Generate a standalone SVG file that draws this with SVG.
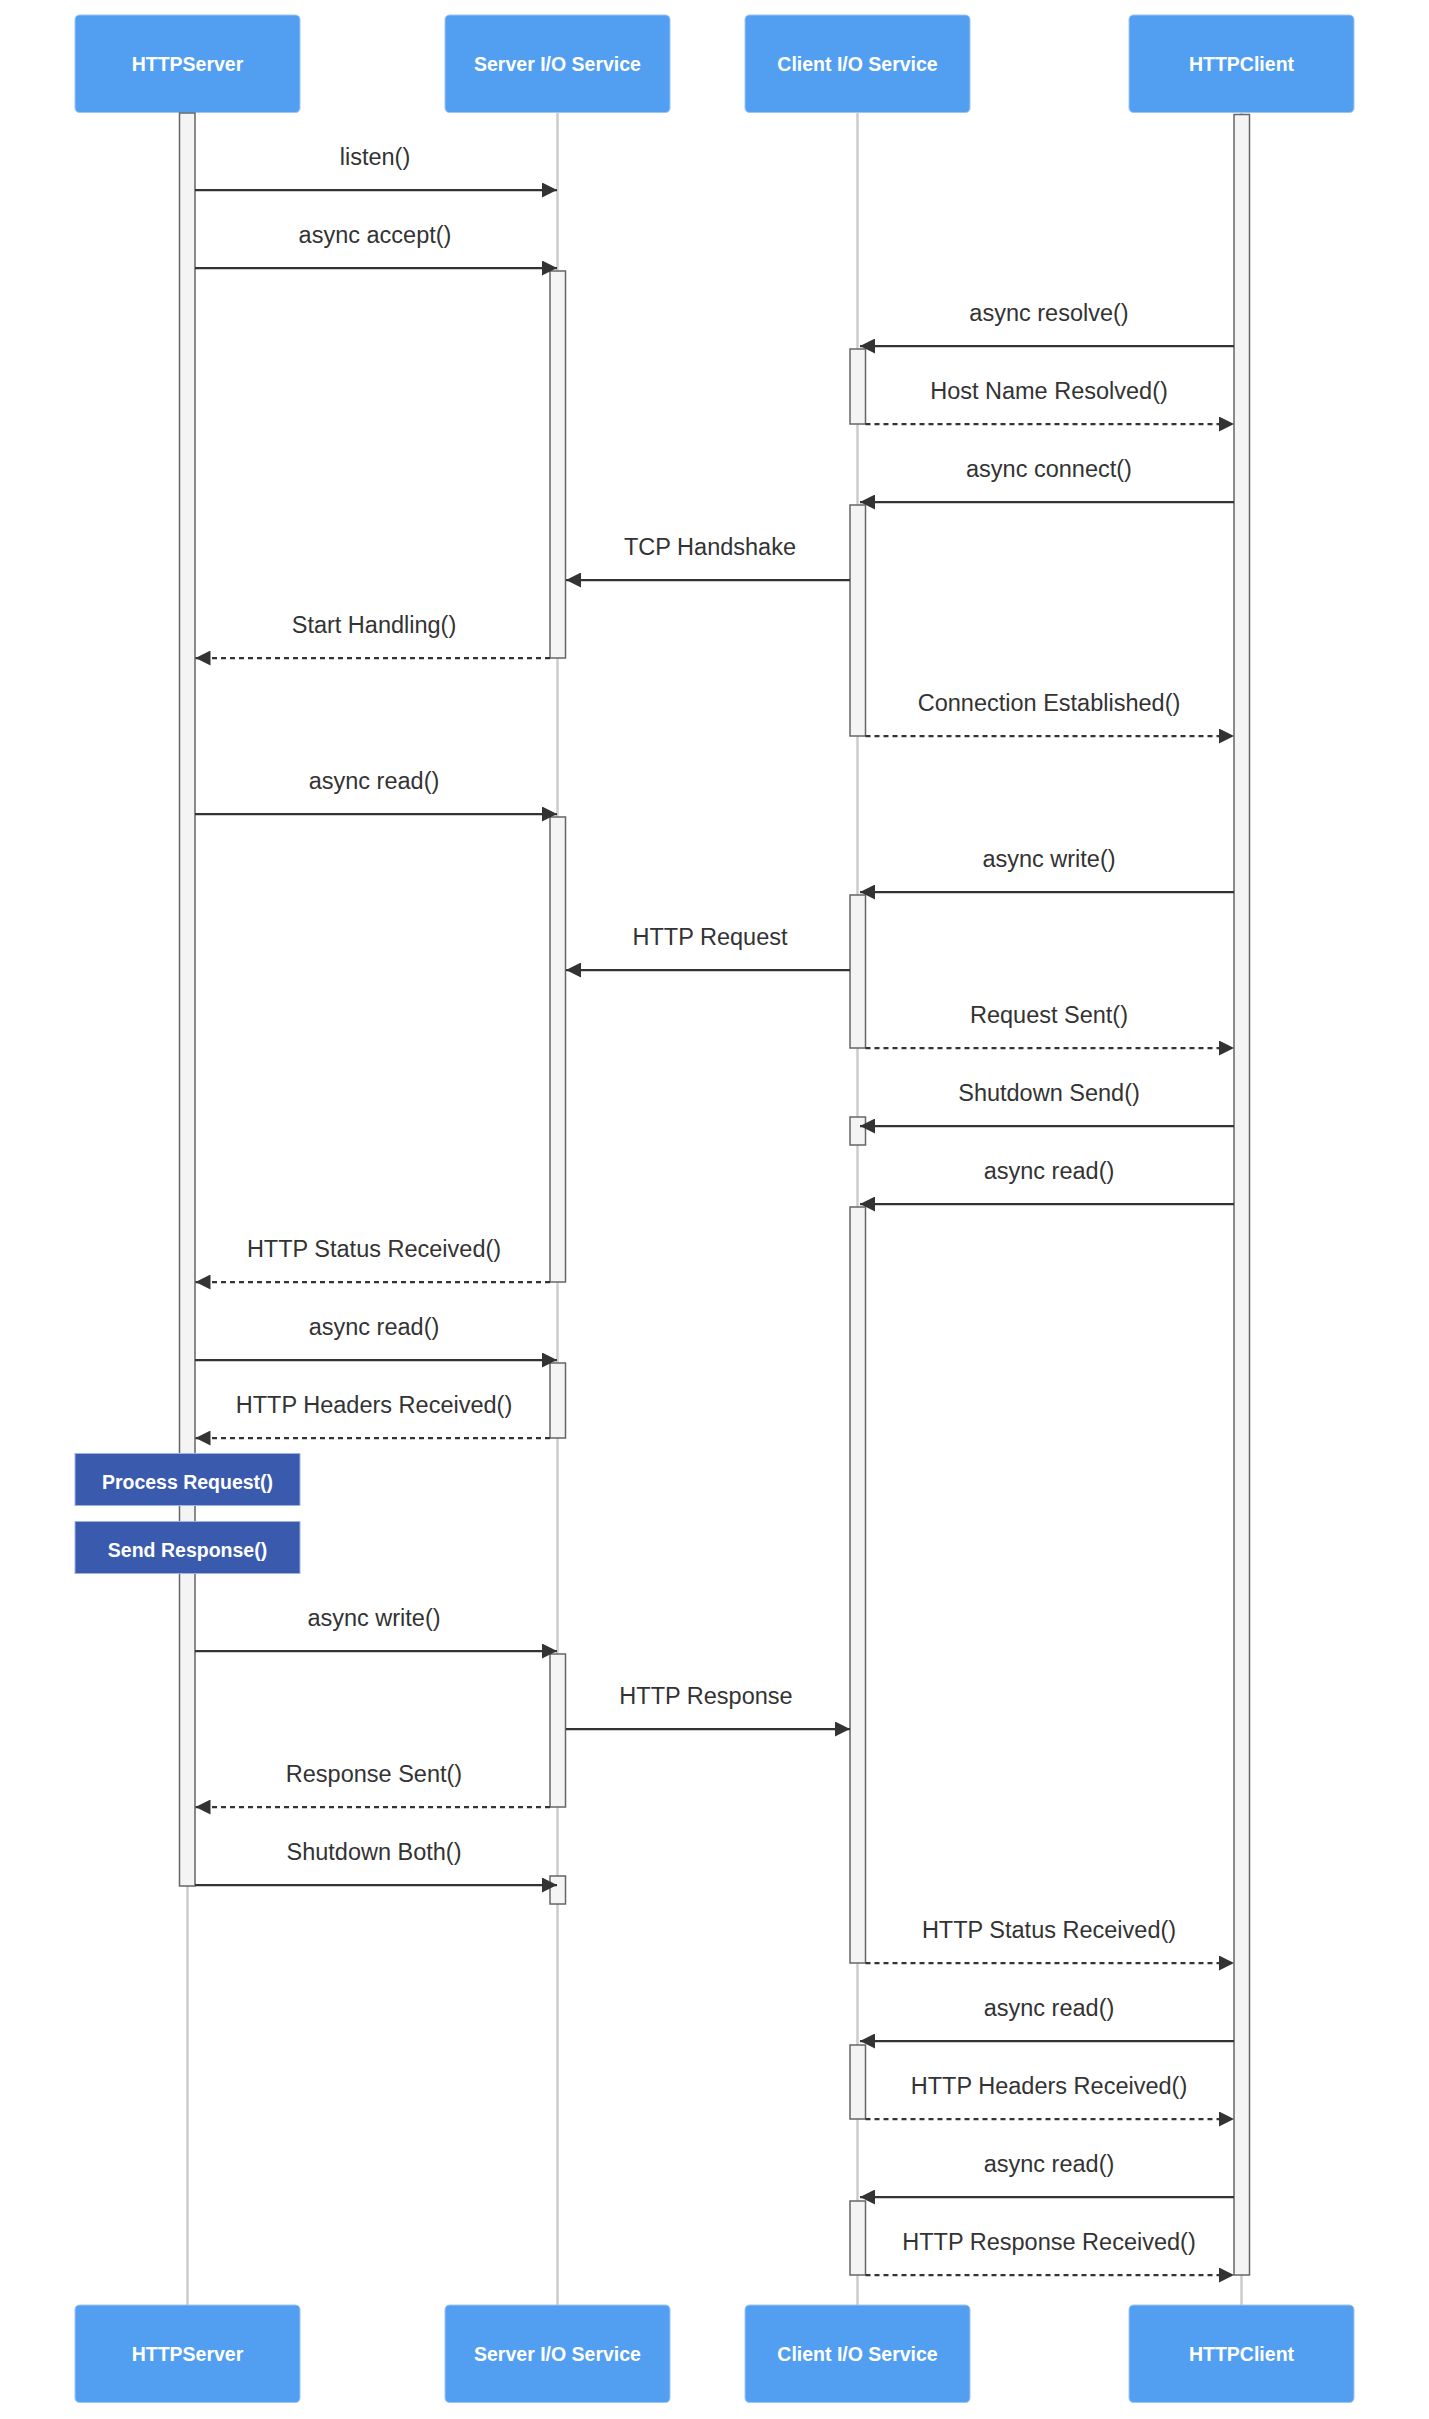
<svg xmlns="http://www.w3.org/2000/svg" width="1429" height="2419" viewBox="0 0 1429 2419">
<defs>
<style>
.actor{fill:#529FF2;stroke:#9cc6f6;stroke-width:1}
.atext{font-family:"Liberation Sans",Arial,sans-serif;font-size:19.5px;font-weight:bold;fill:#ffffff;text-anchor:middle;dominant-baseline:central}
.life{stroke:#cccccc;stroke-width:2.5;fill:none}
.act{fill:#f4f4f4;stroke:#666666;stroke-width:1.5}
.msg{stroke:#333333;stroke-width:2.25;fill:none}
.dash{stroke-dasharray:5,4}
.mtext{font-family:"Liberation Sans",Arial,sans-serif;font-size:23.5px;fill:#333333;text-anchor:middle}
.note{fill:#3A5BAD;stroke:#9fb3e3;stroke-width:1}
.ntext{font-family:"Liberation Sans",Arial,sans-serif;font-size:19.5px;font-weight:bold;fill:#ffffff;text-anchor:middle;dominant-baseline:central}
</style>
<marker id="arrow" markerUnits="userSpaceOnUse" markerWidth="16" markerHeight="15" refX="15" refY="7.5" orient="auto">
<path d="M0,0 L15,7.5 L0,15 z" fill="#333333"/>
</marker>
</defs>
<rect x="0" y="0" width="1429" height="2419" fill="#ffffff"/>

<g id="lifelines">
<line class="life" x1="187.5" y1="112.5" x2="187.5" y2="2305"/>
<line class="life" x1="557.5" y1="112.5" x2="557.5" y2="2305"/>
<line class="life" x1="857.5" y1="112.5" x2="857.5" y2="2305"/>
<line class="life" x1="1241.5" y1="112.5" x2="1241.5" y2="2305"/>
</g>

<g id="actor-HTTPServer">
<rect class="actor" x="75" y="15" width="225" height="97.5" rx="4.5"/>
<text class="atext" x="187.5" y="64">HTTPServer</text>
</g>
<g id="actor-ServerIO">
<rect class="actor" x="445" y="15" width="225" height="97.5" rx="4.5"/>
<text class="atext" x="557.5" y="64">Server I/O Service</text>
</g>
<g id="actor-ClientIO">
<rect class="actor" x="745" y="15" width="225" height="97.5" rx="4.5"/>
<text class="atext" x="857.5" y="64">Client I/O Service</text>
</g>
<g id="actor-HTTPClient">
<rect class="actor" x="1129" y="15" width="225" height="97.5" rx="4.5"/>
<text class="atext" x="1241.5" y="64">HTTPClient</text>
</g>

<g id="actor-HTTPServer-bottom">
<rect class="actor" x="75" y="2305" width="225" height="97.5" rx="4.5"/>
<text class="atext" x="187.5" y="2354">HTTPServer</text>
</g>
<g id="actor-ServerIO-bottom">
<rect class="actor" x="445" y="2305" width="225" height="97.5" rx="4.5"/>
<text class="atext" x="557.5" y="2354">Server I/O Service</text>
</g>
<g id="actor-ClientIO-bottom">
<rect class="actor" x="745" y="2305" width="225" height="97.5" rx="4.5"/>
<text class="atext" x="857.5" y="2354">Client I/O Service</text>
</g>
<g id="actor-HTTPClient-bottom">
<rect class="actor" x="1129" y="2305" width="225" height="97.5" rx="4.5"/>
<text class="atext" x="1241.5" y="2354">HTTPClient</text>
</g>

<g id="activations">
<rect class="act" x="179.5" y="113" width="15.5" height="1773"/>
<rect class="act" x="1234" y="114.5" width="15.5" height="2160.5"/>
<rect class="act" x="550" y="271" width="15.5" height="387"/>
<rect class="act" x="550" y="817" width="15.5" height="465"/>
<rect class="act" x="550" y="1363" width="15.5" height="75"/>
<rect class="act" x="550" y="1654" width="15.5" height="153"/>
<rect class="act" x="550" y="1876" width="15.5" height="28"/>
<rect class="act" x="850" y="349" width="15.5" height="75"/>
<rect class="act" x="850" y="505" width="15.5" height="231"/>
<rect class="act" x="850" y="895" width="15.5" height="153"/>
<rect class="act" x="850" y="1117" width="15.5" height="28"/>
<rect class="act" x="850" y="1207" width="15.5" height="756"/>
<rect class="act" x="850" y="2045" width="15.5" height="74"/>
<rect class="act" x="850" y="2201" width="15.5" height="74"/>
</g>

<g id="notes">
<g id="note-process">
<rect class="note" x="75" y="1453.5" width="225" height="52"/>
<text class="ntext" x="187.5" y="1482">Process Request()</text>
</g>
<g id="note-send">
<rect class="note" x="75" y="1521.5" width="225" height="52"/>
<text class="ntext" x="187.5" y="1550">Send Response()</text>
</g>
</g>

<g id="connectors">
<line class="msg" x1="195" y1="190" x2="557" y2="190" marker-end="url(#arrow)"/>
<text class="mtext" x="375" y="165">listen()</text>
<line class="msg" x1="195" y1="268" x2="557" y2="268" marker-end="url(#arrow)"/>
<text class="mtext" x="375" y="243">async accept()</text>
<line class="msg" x1="1234" y1="346" x2="860" y2="346" marker-end="url(#arrow)"/>
<text class="mtext" x="1049" y="321">async resolve()</text>
<line class="msg dash" x1="865.5" y1="424" x2="1234" y2="424" marker-end="url(#arrow)"/>
<text class="mtext" x="1049" y="399">Host Name Resolved()</text>
<line class="msg" x1="1234" y1="502" x2="860" y2="502" marker-end="url(#arrow)"/>
<text class="mtext" x="1049" y="477">async connect()</text>
<line class="msg" x1="850" y1="580" x2="566" y2="580" marker-end="url(#arrow)"/>
<text class="mtext" x="710" y="555">TCP Handshake</text>
<line class="msg dash" x1="550" y1="658" x2="195.5" y2="658" marker-end="url(#arrow)"/>
<text class="mtext" x="374" y="633">Start Handling()</text>
<line class="msg dash" x1="865.5" y1="736" x2="1234" y2="736" marker-end="url(#arrow)"/>
<text class="mtext" x="1049" y="711">Connection Established()</text>
<line class="msg" x1="195" y1="814" x2="557" y2="814" marker-end="url(#arrow)"/>
<text class="mtext" x="374" y="789">async read()</text>
<line class="msg" x1="1234" y1="892" x2="860" y2="892" marker-end="url(#arrow)"/>
<text class="mtext" x="1049" y="867">async write()</text>
<line class="msg" x1="850" y1="970" x2="566" y2="970" marker-end="url(#arrow)"/>
<text class="mtext" x="710" y="945">HTTP Request</text>
<line class="msg dash" x1="865.5" y1="1048" x2="1234" y2="1048" marker-end="url(#arrow)"/>
<text class="mtext" x="1049" y="1023">Request Sent()</text>
<line class="msg" x1="1234" y1="1126" x2="860" y2="1126" marker-end="url(#arrow)"/>
<text class="mtext" x="1049" y="1101">Shutdown Send()</text>
<line class="msg" x1="1234" y1="1204" x2="860" y2="1204" marker-end="url(#arrow)"/>
<text class="mtext" x="1049" y="1179">async read()</text>
<line class="msg dash" x1="550" y1="1282" x2="195.5" y2="1282" marker-end="url(#arrow)"/>
<text class="mtext" x="374" y="1257">HTTP Status Received()</text>
<line class="msg" x1="195" y1="1360" x2="557" y2="1360" marker-end="url(#arrow)"/>
<text class="mtext" x="374" y="1335">async read()</text>
<line class="msg dash" x1="550" y1="1438" x2="195.5" y2="1438" marker-end="url(#arrow)"/>
<text class="mtext" x="374" y="1413">HTTP Headers Received()</text>
<line class="msg" x1="195" y1="1651" x2="557" y2="1651" marker-end="url(#arrow)"/>
<text class="mtext" x="374" y="1626">async write()</text>
<line class="msg" x1="566" y1="1729" x2="850" y2="1729" marker-end="url(#arrow)"/>
<text class="mtext" x="706" y="1704">HTTP Response</text>
<line class="msg dash" x1="550" y1="1807" x2="195.5" y2="1807" marker-end="url(#arrow)"/>
<text class="mtext" x="374" y="1782">Response Sent()</text>
<line class="msg" x1="195" y1="1885" x2="557" y2="1885" marker-end="url(#arrow)"/>
<text class="mtext" x="374" y="1860">Shutdown Both()</text>
<line class="msg dash" x1="865.5" y1="1963" x2="1234" y2="1963" marker-end="url(#arrow)"/>
<text class="mtext" x="1049" y="1938">HTTP Status Received()</text>
<line class="msg" x1="1234" y1="2041" x2="860" y2="2041" marker-end="url(#arrow)"/>
<text class="mtext" x="1049" y="2016">async read()</text>
<line class="msg dash" x1="865.5" y1="2119" x2="1234" y2="2119" marker-end="url(#arrow)"/>
<text class="mtext" x="1049" y="2094">HTTP Headers Received()</text>
<line class="msg" x1="1234" y1="2197" x2="860" y2="2197" marker-end="url(#arrow)"/>
<text class="mtext" x="1049" y="2172">async read()</text>
<line class="msg dash" x1="865.5" y1="2275" x2="1234" y2="2275" marker-end="url(#arrow)"/>
<text class="mtext" x="1049" y="2250">HTTP Response Received()</text>
</g>
</svg>
